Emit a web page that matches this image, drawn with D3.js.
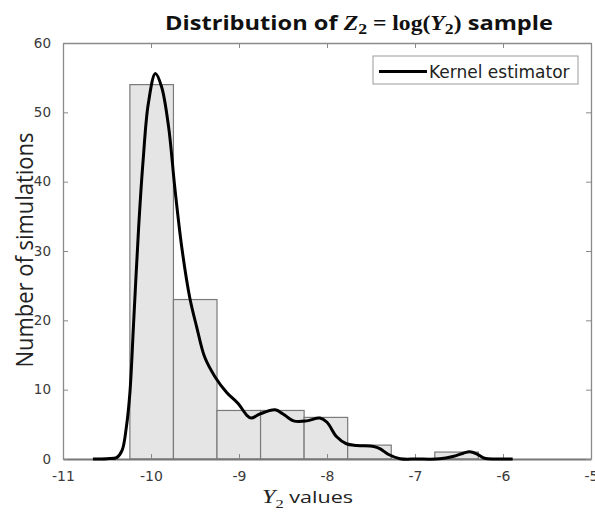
<!DOCTYPE html>
<html>
<head>
<meta charset="utf-8">
<script src="https://cdn.jsdelivr.net/npm/d3@7"></script>
<style>
  body { margin: 0; background: #fff; }
</style>
</head>
<body>
<div id="chart"></div>
<script>
// Histogram bins (edges) and counts
const binEdges = [-10.24, -9.745, -9.25, -8.755, -8.26, -7.765, -7.27, -6.775, -6.28];
const counts = [54, 23, 7, 7, 6, 2, 0, 1];

// Kernel estimator curve
const kdeX = [-10.66, -10.50, -10.39, -10.33, -10.28, -10.24, -10.20, -10.14, -10.09, -10.03,
              -9.95, -9.88, -9.80, -9.73, -9.65, -9.56, -9.48, -9.39, -9.27, -9.14,
              -9.01, -8.91, -8.86, -8.76, -8.59, -8.50, -8.38, -8.23, -8.08, -8.00,
              -7.89, -7.78, -7.66, -7.47, -7.40, -7.30, -7.17, -6.98, -6.72, -6.57,
              -6.45, -6.38, -6.30, -6.21, -6.07, -5.89];
const kdeY = [0, 0.05, 0.2, 1.2, 4.6, 9.5, 19, 33.5, 43, 51.3,
              55.6, 53.7, 47.9, 39.2, 30.5, 23.3, 19, 14.7, 11.8, 9.6,
              8.0, 6.3, 5.9, 6.5, 7.1, 6.5, 5.5, 5.5, 5.9, 5.3,
              3.2, 2.2, 1.95, 1.8, 1.5, 0.65, 0.05, 0, 0.02, 0.36,
              0.84, 1.03, 0.74, 0.1, 0, 0];

const xTicks = [-11, -10, -9, -8, -7, -6, -5];
const yTicks = [0, 10, 20, 30, 40, 50, 60];

// Dimensions
const W = 595, H = 513;
const margin = { top: 43, right: 4, bottom: 54, left: 63 },
      width = W - margin.left - margin.right,
      height = H - margin.top - margin.bottom;

const svgRoot = d3.select("#chart").append("svg")
    .attr("width", W)
    .attr("height", H);

const svg = svgRoot.append("g")
    .attr("transform", `translate(${margin.left},${margin.top})`);

const x = d3.scaleLinear().domain([-11, -5]).range([0, width]);
const y = d3.scaleLinear().domain([0, 60]).range([height, 0]);

// Bars
const bins = counts.map((c, i) => ({ x0: binEdges[i], x1: binEdges[i + 1], n: c }));
svg.append("g")
    .selectAll("rect")
    .data(bins)
    .enter().append("rect")
    .attr("x", d => x(d.x0))
    .attr("y", d => y(d.n))
    .attr("width", d => x(d.x1) - x(d.x0))
    .attr("height", d => y(0) - y(d.n))
    .style("fill", "#e5e5e5")
    .style("stroke", "#7a7a7a")
    .style("stroke-width", 1.2);

// Axes (MATLAB-like box with inward ticks)
const tickCol = "#8a8a8a";
const labelCol = "#3a3a3a";

const xAxis = svg.append("g")
    .attr("transform", `translate(0,${height})`)
    .call(d3.axisBottom(x).tickValues(xTicks).tickSizeInner(-5).tickSizeOuter(0).tickPadding(12)
        .tickFormat(d => String(d)));
const xTop = svg.append("g")
    .call(d3.axisTop(x).tickValues(xTicks).tickSizeInner(-5).tickSizeOuter(0).tickFormat(""));
const yAxis = svg.append("g")
    .call(d3.axisLeft(y).tickValues(yTicks).tickSizeInner(-5).tickSizeOuter(0).tickPadding(12));
const yRight = svg.append("g")
    .attr("transform", `translate(${width},0)`)
    .call(d3.axisRight(y).tickValues(yTicks).tickSizeInner(-5).tickSizeOuter(0).tickFormat(""));

[xAxis, xTop, yAxis, yRight].forEach(g => {
    g.select(".domain").attr("stroke", tickCol).attr("stroke-width", 1.3);
    g.selectAll(".tick line").attr("stroke", tickCol);
    g.selectAll(".tick text")
        .attr("fill", labelCol)
        .style("font-family", "DejaVu Sans, sans-serif")
        .style("font-size", "14px");
});
yAxis.selectAll(".tick text").style("font-size", "13.5px");
xAxis.select(".domain").attr("stroke", "#777").attr("stroke-width", 2);

// Kernel estimator line
const kde = kdeX.map((v, i) => [v, kdeY[i]]);
svg.append("path")
    .datum(kde)
    .attr("fill", "none")
    .attr("stroke", "#000")
    .attr("stroke-width", 3)
    .attr("stroke-linejoin", "round")
    .attr("d", d3.line().x(d => x(d[0])).y(d => y(d[1])).curve(d3.curveCatmullRom.alpha(0.5)));

// Legend
const legend = svgRoot.append("g");
legend.append("rect")
    .attr("x", 373).attr("y", 56)
    .attr("width", 205).attr("height", 28)
    .attr("fill", "#fff")
    .attr("stroke", "#9a9a9a");
legend.append("line")
    .attr("x1", 379).attr("x2", 427)
    .attr("y1", 71.5).attr("y2", 71.5)
    .attr("stroke", "#000").attr("stroke-width", 3);
legend.append("text")
    .attr("x", 429).attr("y", 77.5)
    .style("font-family", "DejaVu Sans, sans-serif")
    .style("font-size", "17px")
    .attr("fill", "#222")
    .text("Kernel estimator");

// Title
const title = svgRoot.append("text")
    .attr("x", 165).attr("y", 29.5)
    .attr("textLength", 388)
    .attr("lengthAdjust", "spacingAndGlyphs")
    .style("font-size", "20px")
    .attr("fill", "#111");
title.append("tspan").style("font-family", "Open Sans, sans-serif").style("font-weight", "bold").text("Distribution of ");
title.append("tspan").style("font-family", "Liberation Serif, serif").style("font-weight", "bold").style("font-style", "italic").text("Z");
title.append("tspan").style("font-family", "Liberation Serif, serif").style("font-weight", "bold").style("font-size", "15px").attr("dy", 4).text("2");
title.append("tspan").style("font-family", "Liberation Serif, serif").style("font-weight", "bold").attr("dy", -4).text(" = log(");
title.append("tspan").style("font-family", "Liberation Serif, serif").style("font-weight", "bold").style("font-style", "italic").text("Y");
title.append("tspan").style("font-family", "Liberation Serif, serif").style("font-weight", "bold").style("font-size", "15px").attr("dy", 4).text("2");
title.append("tspan").style("font-family", "Liberation Serif, serif").style("font-weight", "bold").attr("dy", -4).text(")");
title.append("tspan").style("font-family", "Open Sans, sans-serif").style("font-weight", "bold").text(" sample");

// X label
const xlab = svgRoot.append("text")
    .attr("x", 262).attr("y", 503)
    .attr("textLength", 91)
    .attr("lengthAdjust", "spacingAndGlyphs")
    .style("font-size", "17px")
    .attr("fill", "#222");
xlab.append("tspan").style("font-family", "Liberation Serif, serif").style("font-style", "italic").style("font-size", "19px").text("Y");
xlab.append("tspan").style("font-family", "Liberation Serif, serif").style("font-size", "13px").attr("dy", 5).text("2");
xlab.append("tspan").style("font-family", "Open Sans, sans-serif").attr("dy", -5).text(" values");

// Y label
svgRoot.append("text")
    .attr("transform", "rotate(-90)")
    .attr("x", -250).attr("y", 33)
    .attr("text-anchor", "middle")
    .attr("textLength", 235)
    .attr("lengthAdjust", "spacingAndGlyphs")
    .style("font-family", "Open Sans, sans-serif")
    .style("font-size", "23px")
    .attr("fill", "#222")
    .text("Number of simulations");
</script>
</body>
</html>
